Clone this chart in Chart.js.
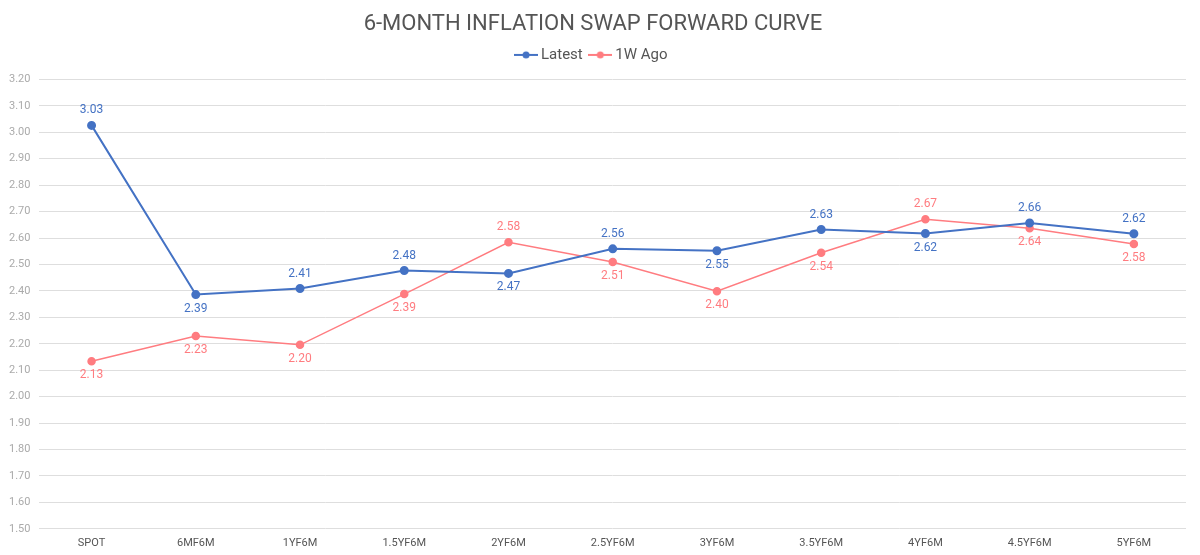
<!DOCTYPE html>
<html>
<head>
<meta charset="utf-8">
<script src="https://cdn.jsdelivr.net/npm/chart.js@4/dist/chart.umd.min.js"></script>
<style>
  html, body { margin: 0; padding: 0; background: #fff; }
  #wrap { width: 1200px; height: 555px; }
</style>
</head>
<body>
<div id="wrap"><canvas id="swapChart"></canvas></div>
<script>
// data
var tenors = ['SPOT', '6MF6M', '1YF6M', '1.5YF6M', '2YF6M', '2.5YF6M', '3YF6M', '3.5YF6M', '4YF6M', '4.5YF6M', '5YF6M'];
var latest = [3.026, 2.386, 2.409, 2.477, 2.466, 2.559, 2.552, 2.632, 2.617, 2.657, 2.616];
var weekAgo = [2.134, 2.229, 2.196, 2.388, 2.584, 2.509, 2.399, 2.544, 2.671, 2.637, 2.577];
var yTicks = [1.5, 1.6, 1.7, 1.8, 1.9, 2.0, 2.1, 2.2, 2.3, 2.4, 2.5, 2.6, 2.7, 2.8, 2.9, 3.0, 3.1, 3.2];

var FONT = 'Roboto, "DejaVu Sans", sans-serif';
var BLUE = '#4472C4';
var PINK = '#FF7C80';

// little line-with-dot swatch for the legend
function swatch(color) {
    var c = document.createElement('canvas');
    c.width = 24; c.height = 10;
    var ctx = c.getContext('2d');
    ctx.strokeStyle = color;
    ctx.lineWidth = 2;
    ctx.beginPath(); ctx.moveTo(0, 5); ctx.lineTo(24, 5); ctx.stroke();
    ctx.fillStyle = color;
    ctx.beginPath(); ctx.arc(12, 5, 3.5, 0, Math.PI * 2); ctx.fill();
    return c;
}

// extra gap under the legend
var legendGap = {
    id: 'legendGap',
    beforeInit(chart) {
        var fit = chart.legend.fit;
        chart.legend.fit = function () {
            fit.bind(chart.legend)();
            this.height += 7;
        };
    }
};

// value labels above / below each point
var valueLabels = {
    id: 'valueLabels',
    afterDatasetsDraw(chart) {
        var ctx = chart.ctx;
        ctx.save();
        ctx.font = '12px ' + FONT;
        ctx.textAlign = 'center';
        ctx.textBaseline = 'middle';
        chart.data.datasets.forEach((ds, i) => {
            var meta = chart.getDatasetMeta(i);
            ctx.fillStyle = ds.borderColor;
            meta.data.forEach((pt, j) => {
                var up = ds.labelSide[j] === 'up';
                var y = up ? pt.y - 15 : pt.y + 14;
                ctx.fillText(ds.data[j].toFixed(2), pt.x, y);
            });
        });
        ctx.restore();
    }
};

var chart = new Chart('swapChart', {
    type: 'line',
    data: {
        labels: tenors,
        datasets: [{
            label: 'Latest',
            data: latest,
            borderColor: BLUE,
            backgroundColor: BLUE,
            borderWidth: 2,
            pointRadius: 3.5,
            pointHoverRadius: 3.5,
            tension: 0,
            labelSide: ['up', 'down', 'up', 'up', 'down', 'up', 'down', 'up', 'down', 'up', 'up']
        }, {
            label: '1W Ago',
            data: weekAgo,
            borderColor: PINK,
            backgroundColor: PINK,
            borderWidth: 1.5,
            pointRadius: 3.5,
            pointHoverRadius: 3.5,
            tension: 0,
            labelSide: ['down', 'down', 'down', 'down', 'up', 'down', 'down', 'down', 'up', 'down', 'down']
        }]
    },
    options: {
        responsive: true,
        maintainAspectRatio: false,
        animation: false,
        layout: { padding: { left: 0, right: 14, top: 11, bottom: 5 } },
        plugins: {
            title: {
                display: true,
                text: '6-MONTH INFLATION SWAP FORWARD CURVE',
                color: '#555',
                font: { family: FONT, size: 22, weight: 'normal' },
                padding: { top: 0, bottom: 0 }
            },
            legend: {
                display: true,
                labels: {
                    color: '#555',
                    font: { family: FONT, size: 15 },
                    usePointStyle: true,
                    boxHeight: 10,
                    padding: 10,
                    generateLabels: (c) => c.data.datasets.map((ds, i) => ({
                        text: ds.label,
                        fontColor: '#555',
                        pointStyle: swatch(ds.borderColor),
                        datasetIndex: i,
                        hidden: false,
                        lineWidth: 0
                    }))
                }
            },
            tooltip: { enabled: false }
        },
        scales: {
            x: {
                offset: true,
                grid: { display: false },
                border: { display: false },
                ticks: { color: '#555', font: { family: FONT, size: 11 }, maxRotation: 0, padding: 0 }
            },
            y: {
                min: 1.5,
                max: 3.2,
                afterBuildTicks: (axis) => { axis.ticks = yTicks.map(v => ({ value: v })); },
                grid: { color: '#dedede', lineWidth: 1, drawTicks: false },
                border: { display: false },
                ticks: {
                    color: '#aaa',
                    font: { family: FONT, size: 11 },
                    padding: 9,
                    callback: (v) => Number(v).toFixed(2)
                }
            }
        }
    },
    plugins: [legendGap, valueLabels]
});
</script>
</body>
</html>
